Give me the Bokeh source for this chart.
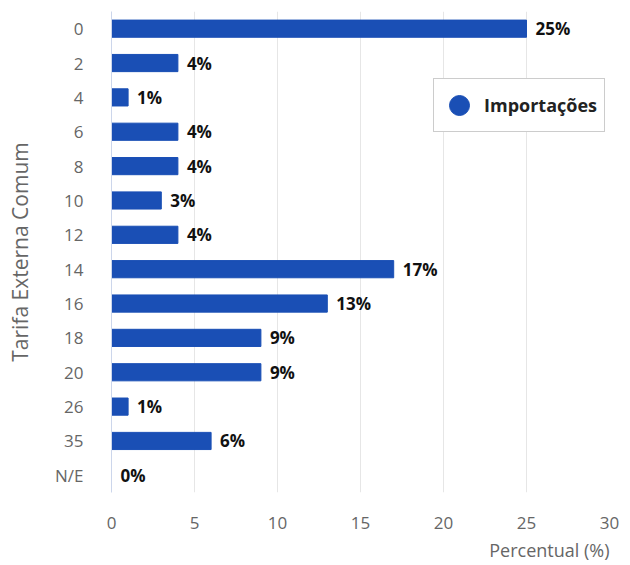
from bokeh.plotting import figure
from bokeh.models import ColumnDataSource, Legend, LegendItem, Title, FixedTicker
from bokeh.core.properties import value
from bokeh.embed import file_html
from bokeh.resources import INLINE

categories = ["0", "2", "4", "6", "8", "10", "12", "14", "16", "18", "20", "26", "35", "N/E"]
importacoes = [25, 4, 1, 4, 4, 3, 4, 17, 13, 9, 9, 1, 6, 0]
x_ticks = [0, 5, 10, 15, 20, 25, 30]
series_name = "Importações"
y_title = "Tarifa Externa Comum"
x_title = "Percentual (%)"

labels = [f"{v}%" for v in importacoes]
src = ColumnDataSource(dict(cat=categories, val=importacoes, lab=labels))

FONT = "Open Sans"
BLUE = "#1a4fb5"

p = figure(width=626, height=565, y_range=list(reversed(categories)), x_range=(0, 30),
           output_backend="svg", toolbar_location=None,
           min_border_left=111, min_border_right=17, min_border_top=11, min_border_bottom=73)
p.outline_line_color = None
p.background_fill_color = "white"

p.hbar(y="cat", right="val", left=0, height=0.5, source=src, color=BLUE, line_color=BLUE)
p.text(x="val", y="cat", text="lab", source=src, x_offset=9, text_baseline="middle",
       text_align="left", text_font=value(FONT), text_font_style="bold",
       text_font_size="17px", text_color="#111111")

dummy = p.scatter(x=[-100], y=["0"], marker="circle", size=20, color=BLUE)
legend = Legend(items=[LegendItem(label=series_name, renderers=[dummy])],
                location=(322, 360), orientation="vertical")
legend.label_text_font = FONT
legend.label_text_font_style = "bold"
legend.label_text_font_size = "18px"
legend.label_text_color = "#222222"
legend.border_line_color = "#999999"
legend.border_line_width = 1
legend.background_fill_color = "white"
legend.background_fill_alpha = 1
legend.padding = 0
legend.margin = 0
legend.glyph_width = 50
legend.glyph_height = 52
legend.label_standoff = 0
legend.label_width = 120
legend.label_height = 20
p.add_layout(legend, "center")

p.xaxis.ticker = FixedTicker(ticks=x_ticks)
p.xaxis.axis_line_color = None
p.xaxis.major_tick_line_color = None
p.xaxis.minor_tick_line_color = None
p.xaxis.major_label_standoff = 18
p.xaxis.major_label_text_font = FONT
p.xaxis.major_label_text_font_size = "17px"
p.xaxis.major_label_text_color = "#666666"

p.yaxis.axis_line_color = "#ccd6eb"
p.yaxis.major_tick_line_color = None
p.yaxis.minor_tick_line_color = None
p.yaxis.major_label_standoff = 22
p.yaxis.major_label_text_font = FONT
p.yaxis.major_label_text_font_size = "17px"
p.yaxis.major_label_text_color = "#666666"
p.yaxis.axis_label = y_title
p.yaxis.axis_label_text_font = FONT
p.yaxis.axis_label_text_font_style = "normal"
p.yaxis.axis_label_text_font_size = "21px"
p.yaxis.axis_label_text_color = "#666666"
p.yaxis.axis_label_standoff = 18

p.xgrid.grid_line_color = "#e6e6e6"
p.ygrid.grid_line_color = None

t = Title(text=x_title, align="right", text_font=FONT, text_font_style="normal",
          text_font_size="18px", text_color="#666666", offset=0, standoff=8)
p.add_layout(t, "below")

open("out.html", "w").write(file_html(p, INLINE))
